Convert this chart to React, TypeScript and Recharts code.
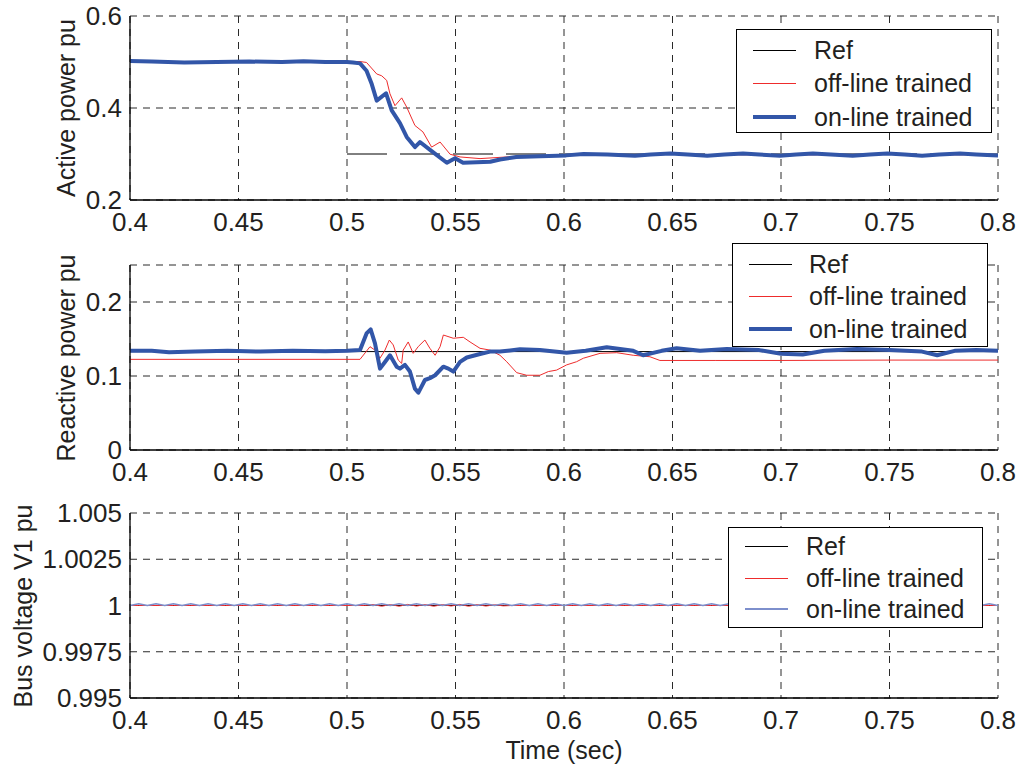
import React from 'react';
import { LineChart, Line, XAxis, YAxis, CartesianGrid } from 'recharts';

const TIME_TICKS = [0.4, 0.45, 0.5, 0.55, 0.6, 0.65, 0.7, 0.75, 0.8];

// --- active power panel
const ACTIVE_TICKS = [0.2, 0.4, 0.6];
// null breaks the step so the drop at 0.5 is not drawn
const ACTIVE_REF_T = [0.4, 0.5, 0.5, 0.5, 0.8];
const ACTIVE_REF_V = [0.5, 0.5, null, 0.3, 0.3];
const ACTIVE_OFF_T = [0.4, 0.5, 0.506, 0.509, 0.5137, 0.516, 0.5183, 0.5198, 0.5221, 0.5252, 0.5275, 0.5313, 0.535, 0.539, 0.5429, 0.5475, 0.5521, 0.5613, 0.5736, 0.59, 0.62, 0.65, 0.7, 0.75, 0.8];
const ACTIVE_OFF_V = [0.501, 0.501, 0.501, 0.499, 0.474, 0.47, 0.46, 0.431, 0.405, 0.422, 0.402, 0.362, 0.348, 0.315, 0.326, 0.2995, 0.2936, 0.29, 0.2936, 0.296, 0.298, 0.299, 0.298, 0.299, 0.298];
const ACTIVE_ON_T = [0.4, 0.41, 0.425, 0.44, 0.455, 0.47, 0.48, 0.49, 0.5, 0.5028, 0.506, 0.509, 0.5114, 0.5137, 0.518, 0.5206, 0.5244, 0.5275, 0.5313, 0.5336, 0.5396, 0.546, 0.5498, 0.5535, 0.566, 0.5705, 0.578, 0.589, 0.601, 0.609, 0.62, 0.6327, 0.64, 0.649, 0.657, 0.666, 0.674, 0.6825, 0.69, 0.6995, 0.707, 0.7147, 0.723, 0.733, 0.741, 0.749, 0.757, 0.765, 0.773, 0.7825, 0.79, 0.8];
const ACTIVE_ON_V = [0.502, 0.501, 0.499, 0.5, 0.501, 0.5, 0.5015, 0.5, 0.5, 0.499, 0.497, 0.481, 0.452, 0.416, 0.432, 0.395, 0.367, 0.337, 0.315, 0.326, 0.304, 0.281, 0.291, 0.281, 0.283, 0.288, 0.2935, 0.295, 0.297, 0.3, 0.299, 0.296, 0.299, 0.301, 0.299, 0.296, 0.299, 0.301, 0.299, 0.296, 0.299, 0.301, 0.299, 0.296, 0.299, 0.301, 0.299, 0.296, 0.299, 0.301, 0.299, 0.297];

// --- reactive power panel
const REACTIVE_TICKS = [0, 0.1, 0.2];
const REACTIVE_REF_T = [0.4, 0.8];
const REACTIVE_REF_V = [0.133, 0.133];
const REACTIVE_OFF_T = [0.4, 0.506, 0.5106, 0.5129, 0.5152, 0.5175, 0.5195, 0.5213, 0.5236, 0.5252, 0.5259, 0.5282, 0.5305, 0.5329, 0.5359, 0.5382, 0.5406, 0.5429, 0.5444, 0.549, 0.5536, 0.5567, 0.5613, 0.5659, 0.5705, 0.5736, 0.5782, 0.5828, 0.5889, 0.5928, 0.5966, 0.6012, 0.6058, 0.6089, 0.6166, 0.6243, 0.6319, 0.6396, 0.6442, 0.67, 0.7, 0.75, 0.8];
const REACTIVE_OFF_V = [0.1225, 0.1225, 0.1396, 0.135, 0.124, 0.135, 0.1486, 0.142, 0.1216, 0.117, 0.135, 0.146, 0.1306, 0.14, 0.1486, 0.1374, 0.128, 0.1396, 0.1554, 0.151, 0.1523, 0.146, 0.1374, 0.135, 0.128, 0.1193, 0.1045, 0.101, 0.101, 0.106, 0.108, 0.115, 0.1193, 0.124, 0.1306, 0.1315, 0.128, 0.126, 0.121, 0.121, 0.121, 0.1215, 0.1215];
const REACTIVE_ON_T = [0.4, 0.41, 0.418, 0.43, 0.445, 0.46, 0.475, 0.49, 0.5, 0.506, 0.5091, 0.5109, 0.5129, 0.5152, 0.5175, 0.5198, 0.5229, 0.5244, 0.5267, 0.529, 0.5313, 0.5329, 0.5359, 0.5382, 0.5406, 0.5444, 0.5467, 0.549, 0.5521, 0.5552, 0.5613, 0.5659, 0.5705, 0.5797, 0.5889, 0.6012, 0.61, 0.6197, 0.6319, 0.6365, 0.645, 0.6519, 0.6627, 0.675, 0.69, 0.7, 0.71, 0.72, 0.735, 0.75, 0.765, 0.772, 0.78, 0.79, 0.8];
const REACTIVE_ON_V = [0.134, 0.134, 0.132, 0.133, 0.134, 0.133, 0.134, 0.1335, 0.134, 0.135, 0.158, 0.163, 0.144, 0.11, 0.119, 0.128, 0.1126, 0.11, 0.115, 0.106, 0.083, 0.0775, 0.0946, 0.097, 0.101, 0.1126, 0.11, 0.106, 0.119, 0.125, 0.1297, 0.133, 0.133, 0.136, 0.135, 0.1315, 0.134, 0.1388, 0.134, 0.128, 0.134, 0.1374, 0.134, 0.1365, 0.135, 0.13, 0.129, 0.134, 0.1365, 0.135, 0.133, 0.128, 0.134, 0.135, 0.134];

// --- bus voltage panel
const BUS_TICKS = [0.995, 0.9975, 1, 1.0025, 1.005];
const BUS_REF_T = [0.4, 0.8];
const BUS_REF_V = [1, 1];
const BUS_T = [
  0.4, 0.404, 0.408, 0.412, 0.416, 0.42, 0.424, 0.428, 0.432, 0.436,
  0.44, 0.444, 0.448, 0.452, 0.456, 0.46, 0.464, 0.468, 0.472, 0.476,
  0.48, 0.484, 0.488, 0.492, 0.496, 0.5, 0.504, 0.508, 0.512, 0.516,
  0.52, 0.524, 0.528, 0.532, 0.536, 0.54, 0.544, 0.548, 0.552, 0.556,
  0.56, 0.564, 0.568, 0.572, 0.576, 0.58, 0.584, 0.588, 0.592, 0.596,
  0.6, 0.604, 0.608, 0.612, 0.616, 0.62, 0.624, 0.628, 0.632, 0.636,
  0.64, 0.644, 0.648, 0.652, 0.656, 0.66, 0.664, 0.668, 0.672, 0.676,
  0.68, 0.684, 0.688, 0.692, 0.696, 0.7, 0.704, 0.708, 0.712, 0.716,
  0.72, 0.724, 0.728, 0.732, 0.736, 0.74, 0.744, 0.748, 0.752, 0.756,
  0.76, 0.764, 0.768, 0.772, 0.776, 0.78, 0.784, 0.788, 0.792, 0.796,
  0.8,
];
const BUS_OFF_V = [
  1, 1, 1, 1, 1, 1, 1, 1, 1, 1,
  1, 1, 1, 1, 1, 1, 1, 1, 1, 1,
  1, 1, 1, 1, 1, 1, 1, 1, 1.00005, 0.99996,
  1.00005, 0.99996, 1.00006, 0.99997, 1.00005, 0.99996, 1.00005, 0.99997, 1.00006, 0.99996,
  1.00005, 0.99997, 1.00004, 0.99998, 1, 1, 1, 1, 1, 1,
  1, 1, 1, 1, 1, 1, 1, 1, 1, 1,
  1, 1, 1, 1, 1, 1, 1, 1, 1, 1,
  1, 1, 1, 1, 1, 1, 1, 1, 1, 1,
  1, 1, 1, 1, 1, 1, 1, 1, 1, 1,
  1, 1, 1, 1, 1, 1, 1, 1, 1, 1,
  1,
];
const BUS_ON_V = [
  1, 1.0001, 1, 1.0001, 1, 1.0001, 1, 1.0001, 1, 1.0001,
  1, 1.0001, 1, 1.0001, 1, 1.0001, 1, 1.0001, 1, 1.0001,
  1, 1.0001, 1, 1.0001, 1, 1.0001, 1, 1.0001, 1, 1.0001,
  1, 1.0001, 1, 1.0001, 1, 1.0001, 1, 1.0001, 1, 1.0001,
  1, 1.0001, 1, 1.0001, 1, 1.0001, 1, 1.0001, 1, 1.0001,
  1, 1.0001, 1, 1.0001, 1, 1.0001, 1, 1.0001, 1, 1.0001,
  1, 1.0001, 1, 1.0001, 1, 1.0001, 1, 1.0001, 1, 1.0001,
  1, 1.0001, 1, 1.0001, 1, 1.0001, 1, 1.0001, 1, 1.0001,
  1, 1.0001, 1, 1.0001, 1, 1.0001, 1, 1.0001, 1, 1.0001,
  1, 1.0001, 1, 1.0001, 1, 1.0001, 1, 1.0001, 1, 1.0001,
  1,
];

const LEGEND_LABELS = ['Ref', 'off-line trained', 'on-line trained'];

const BLUE = '#3256a8';
const RED = '#ee2c2c';
const LIGHT_BLUE = '#7d8fcc';
const FONT = '"Liberation Sans", Arial, Helvetica, sans-serif';
const TEXT = '#231f20';

const pts = (t: number[], v: (number | null)[]) => t.map((x, i) => ({ t: x, v: v[i] }));

type Series = { data: { t: number; v: number | null }[]; color: string; width: number; dash?: string };

function Panel({ top, height, mTop, mBottom, domain, yTicks, series }: {
  top: number; height: number; mTop: number; mBottom: number;
  domain: [number, number]; yTicks: number[]; series: Series[];
}) {
  const border = { stroke: '#000', strokeWidth: 1.3 };
  return (
    <div style={{ position: 'absolute', left: 0, top, width: 1020, height }}>
      <LineChart width={1020} height={height} margin={{ top: mTop, right: 22, bottom: mBottom, left: 2 }}>
        <CartesianGrid xAxisId="b" yAxisId="l" stroke="#2a2a2a" strokeDasharray="7 6" />
        <XAxis xAxisId="b" type="number" dataKey="t" domain={[0.4, 0.8]} ticks={TIME_TICKS} interval={0}
          allowDataOverflow tickLine={false} tickSize={0} tickMargin={13} height={30}
          axisLine={border} tick={{ fill: TEXT, fontSize: 26, fontFamily: FONT }} />
        <XAxis xAxisId="t" orientation="top" type="number" domain={[0.4, 0.8]} height={0}
          tick={false} tickLine={false} axisLine={border} />
        <YAxis yAxisId="l" type="number" domain={domain} ticks={yTicks} interval={0} allowDataOverflow
          width={128} tickLine={false} tickSize={0} tickMargin={8}
          axisLine={border} tick={{ fill: TEXT, fontSize: 26, fontFamily: FONT }} />
        <YAxis yAxisId="r" orientation="right" type="number" domain={[0, 1]} width={0}
          tick={false} tickLine={false} axisLine={border} />
        {series.map((s, i) => (
          <Line key={i} xAxisId="b" yAxisId="l" data={s.data} dataKey="v" type="linear"
            stroke={s.color} strokeWidth={s.width} strokeDasharray={s.dash} strokeLinejoin="round"
            dot={false} activeDot={false} connectNulls={false} isAnimationActive={false} />
        ))}
      </LineChart>
    </div>
  );
}

function LegendBox({ left, top, width, height, rowsY, sampleX, textX, colors, widths }: {
  left: number; top: number; width: number; height: number; rowsY: number[];
  sampleX: number; textX: number; colors: string[]; widths: number[];
}) {
  return (
    <div style={{ position: 'absolute', left, top, width, height, background: '#fff', border: '1.3px solid #000', boxSizing: 'border-box' }}>
      {LEGEND_LABELS.map((label, i) => (
        <div key={label} style={{ position: 'absolute', left: 0, top: rowsY[i] - 15, height: 30, width: '100%' }}>
          <div style={{ position: 'absolute', left: sampleX, top: 15 - widths[i] / 2, width: 43, height: widths[i], background: colors[i] }} />
          <div style={{ position: 'absolute', left: textX, top: 0, height: 30, lineHeight: '30px', fontSize: 25, color: TEXT, whiteSpace: 'nowrap' }}>{label}</div>
        </div>
      ))}
    </div>
  );
}

function VLabel({ x, y, text }: { x: number; y: number; text: string }) {
  return (
    <div style={{ position: 'absolute', left: x, top: y, transform: 'translate(-50%, -50%) rotate(-90deg)', whiteSpace: 'nowrap', fontSize: 25, color: TEXT }}>
      {text}
    </div>
  );
}

export default function App() {
  return (
    <div style={{ position: 'absolute', left: 0, top: 0, width: 1020, height: 775, background: '#fff', fontFamily: FONT, overflow: 'hidden' }}>
      <Panel top={0} height={240} mTop={16} mBottom={10} domain={[0.2, 0.6]} yTicks={ACTIVE_TICKS}
        series={[
          { data: pts(ACTIVE_REF_T, ACTIVE_REF_V), color: '#000', width: 1, dash: '40 13' },
          { data: pts(ACTIVE_OFF_T, ACTIVE_OFF_V), color: RED, width: 1 },
          { data: pts(ACTIVE_ON_T, ACTIVE_ON_V), color: BLUE, width: 4 },
        ]} />
      <Panel top={240} height={250} mTop={25} mBottom={10} domain={[0, 0.25]} yTicks={REACTIVE_TICKS}
        series={[
          { data: pts(REACTIVE_REF_T, REACTIVE_REF_V), color: '#000', width: 1 },
          { data: pts(REACTIVE_OFF_T, REACTIVE_OFF_V), color: RED, width: 1 },
          { data: pts(REACTIVE_ON_T, REACTIVE_ON_V), color: BLUE, width: 4 },
        ]} />
      <Panel top={490} height={285} mTop={23} mBottom={47} domain={[0.995, 1.005]} yTicks={BUS_TICKS}
        series={[
          { data: pts(BUS_REF_T, BUS_REF_V), color: '#000', width: 1 },
          { data: pts(BUS_T, BUS_OFF_V), color: RED, width: 1 },
          { data: pts(BUS_T, BUS_ON_V), color: LIGHT_BLUE, width: 1.5 },
        ]} />

      <VLabel x={66} y={108} text="Active power pu" />
      <VLabel x={66} y={358} text="Reactive power pu" />
      <VLabel x={23} y={606} text="Bus voltage V1 pu" />
      <div style={{ position: 'absolute', left: 564, top: 750, transform: 'translate(-50%, -50%)', fontSize: 25, color: TEXT, whiteSpace: 'nowrap' }}>Time (sec)</div>

      <LegendBox left={736} top={29} width={256} height={104} rowsY={[20, 53, 87]} sampleX={16} textX={77}
        colors={['#000', RED, BLUE]} widths={[1, 1, 4]} />
      <LegendBox left={732} top={243} width={256} height={104} rowsY={[20, 52, 85]} sampleX={16} textX={76}
        colors={['#000', RED, BLUE]} widths={[1, 1, 4]} />
      <LegendBox left={728} top={527} width={255} height={101} rowsY={[18, 50, 81]} sampleX={16} textX={77}
        colors={['#000', RED, LIGHT_BLUE]} widths={[1, 1, 1.5]} />
    </div>
  );
}
